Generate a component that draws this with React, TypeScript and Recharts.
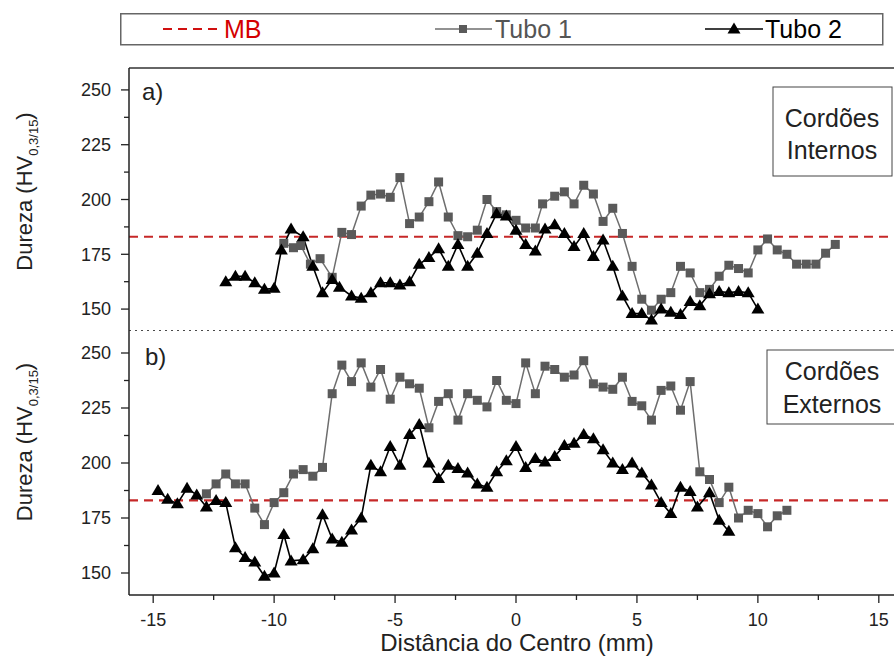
import { Line, LineChart, ReferenceLine, XAxis, YAxis } from 'recharts';

const FONT = '"Liberation Sans", Arial, sans-serif';

// eixo x (mm) e eixo y (HV)
const xTicks = [-15, -12.5, -10, -7.5, -5, -2.5, 0, 2.5, 5, 7.5, 10, 12.5, 15];
const xLabels = [-15, -10, -5, 0, 5, 10, 15];
const yTicks = [150, 162.5, 175, 187.5, 200, 212.5, 225, 237.5, 250];
const yLabels = [150, 175, 200, 225, 250];
const mb = 183;

// a) Cordões Internos
const intTubo1X = [-9.6, -9.2, -8.9, -8.5, -8.1, -7.6, -7.2, -6.8, -6.4, -6.0, -5.6, -5.2, -4.8, -4.4, -4.0, -3.6, -3.2, -2.8, -2.4, -2.0, -1.6, -1.2, -0.8, -0.4, 0.0, 0.4, 0.8, 1.1, 1.6, 2.0, 2.4, 2.8, 3.2, 3.6, 4.0, 4.4, 4.8, 5.2, 5.6, 6.0, 6.4, 6.8, 7.2, 7.6, 8.0, 8.4, 8.8, 9.2, 9.6, 10.0, 10.4, 10.8, 11.2, 11.6, 12.0, 12.4, 12.8, 13.2];
const intTubo1Y = [180, 178, 179, 170.5, 173, 164.5, 185, 184, 197, 202, 202.5, 201, 210, 189, 192, 199, 208, 192, 183.5, 183, 186, 200, 194.5, 193, 190.5, 187, 187, 198, 201.5, 203.5, 198, 206.5, 202.5, 190, 196, 184.5, 169.5, 154.5, 149.5, 154.5, 157.5, 169.5, 166.5, 157.5, 159, 165, 170, 168.5, 166.5, 177, 182, 177, 175, 170.5, 170.5, 170.5, 175.5, 179.5];
const intTubo2X = [-12.0, -11.6, -11.2, -10.8, -10.4, -10.0, -9.7, -9.3, -8.8, -8.4, -8.0, -7.6, -7.3, -6.8, -6.4, -6.0, -5.6, -5.2, -4.8, -4.4, -4.0, -3.6, -3.2, -2.8, -2.4, -2.0, -1.6, -1.2, -0.8, -0.4, 0.0, 0.4, 0.8, 1.2, 1.6, 2.0, 2.4, 2.8, 3.2, 3.6, 4.0, 4.4, 4.8, 5.2, 5.6, 6.0, 6.4, 6.8, 7.2, 7.6, 8.0, 8.4, 8.8, 9.2, 9.6, 10.0];
const intTubo2Y = [162.5, 165, 165, 162, 159, 159.5, 177, 186.5, 183, 169.5, 157.5, 163.5, 160, 156, 155, 157.5, 162, 162, 161, 162.5, 170.5, 173.5, 177.5, 169.5, 179.5, 169.5, 175.5, 184.5, 193.5, 192.5, 186, 179.5, 176.5, 186.5, 188.5, 184.5, 178.5, 184.5, 174, 181.5, 169.5, 156, 148, 148, 145, 150, 148.5, 147.5, 153.5, 151.5, 157, 158, 157.5, 158, 157.5, 150];

// b) Cordões Externos
const extTubo1X = [-12.8, -12.4, -12.0, -11.6, -11.2, -10.8, -10.4, -10.0, -9.6, -9.2, -8.8, -8.4, -8.0, -7.6, -7.2, -6.8, -6.4, -6.0, -5.6, -5.2, -4.8, -4.4, -4.0, -3.6, -3.2, -2.8, -2.4, -2.0, -1.6, -1.2, -0.8, -0.4, 0.0, 0.4, 0.8, 1.2, 1.6, 2.0, 2.4, 2.8, 3.2, 3.6, 4.0, 4.4, 4.8, 5.2, 5.6, 6.0, 6.4, 6.8, 7.2, 7.6, 8.0, 8.4, 8.8, 9.2, 9.6, 10.0, 10.4, 10.8, 11.2];
const extTubo1Y = [186, 190.5, 195, 190.5, 190.5, 179.5, 172, 182, 186.5, 195, 197, 194, 198, 231.5, 244.5, 237, 245.5, 234.5, 242.5, 229, 239, 236, 234, 216, 228, 231.5, 219.5, 231.5, 228.5, 225.5, 237.5, 228.5, 227, 245.5, 231.5, 244, 242.5, 239, 240, 246.5, 236, 234.5, 233.5, 239, 228, 226, 219.5, 233, 235, 224, 237, 196, 192.5, 182, 189, 175, 178.5, 177, 171, 176, 178.5];
const extTubo2X = [-14.8, -14.4, -14.0, -13.6, -13.2, -12.8, -12.4, -12.0, -11.6, -11.2, -10.8, -10.4, -10.0, -9.6, -9.3, -8.8, -8.4, -8.0, -7.6, -7.2, -6.8, -6.4, -6.0, -5.6, -5.2, -4.8, -4.4, -4.0, -3.6, -3.2, -2.8, -2.4, -2.0, -1.6, -1.2, -0.8, -0.4, 0.0, 0.4, 0.8, 1.2, 1.6, 2.0, 2.4, 2.8, 3.2, 3.6, 4.0, 4.4, 4.8, 5.2, 5.6, 6.0, 6.4, 6.8, 7.2, 7.5, 8.0, 8.4, 8.8];
const extTubo2Y = [187.5, 183.5, 181.5, 188.5, 185.5, 180, 183, 182, 161.5, 157, 155, 148.5, 150, 167.5, 155.5, 156, 161, 176.5, 165.5, 164, 169.5, 175, 199, 196, 207.5, 199, 213, 217.5, 200, 193, 199, 197.5, 195.5, 190.5, 189, 196, 201, 207.5, 198, 202, 200.5, 203, 208, 209, 213, 211, 206, 200, 197, 200, 195.5, 190, 182, 177, 189, 187, 180, 186.5, 174, 169];

const zip = (xs: number[], ys: number[]) => xs.map((x, i) => ({ x, y: ys[i] }));

function XTick({ x, y, payload }: any) {
  const major = xLabels.includes(payload.value);
  return (
    <g>
      <line x1={x} y1={y} x2={x} y2={y + (major ? 8 : 5)} stroke="#222" strokeWidth={1.3} />
      {major && (
        <text x={x} y={y + 25} dy="0.35em" textAnchor="middle" fontSize={18} fill="#222" fontFamily={FONT}>
          {payload.value}
        </text>
      )}
    </g>
  );
}

function YTick({ x, y, payload }: any) {
  const major = yLabels.includes(payload.value);
  return (
    <g>
      <line x1={x - (major ? 8 : 5)} y1={y} x2={x} y2={y} stroke="#222" strokeWidth={1.3} />
      {major && (
        <text x={x - 18} y={y} dy="0.35em" textAnchor="end" fontSize={18} fill="#222" fontFamily={FONT}>
          {payload.value}
        </text>
      )}
    </g>
  );
}

function YTitle({ cx, cy }: { cx: number; cy: number }) {
  return (
    <text transform={`rotate(-90 ${cx} ${cy})`} x={cx} y={cy} textAnchor="middle" fontSize={22} fill="#222" fontFamily={FONT}>
      Dureza (HV<tspan fontSize={13} dy={6}>0,3/15</tspan>
      <tspan dy={-6}>)</tspan>
    </text>
  );
}

function XTitle() {
  return (
    <text x={517} y={320} textAnchor="middle" fontSize={24} fill="#222" fontFamily={FONT}>
      Distância do Centro (mm)
    </text>
  );
}

const squareDot = (p: any) =>
  p.cx == null ? <g key={p.index} /> : <rect key={p.index} x={p.cx - 4.5} y={p.cy - 4.5} width={9} height={9} fill="#5a5a5a" />;

const triangleDot = (p: any) =>
  p.cx == null ? (
    <g key={p.index} />
  ) : (
    <path key={p.index} d={`M${p.cx},${p.cy - 6.5} L${p.cx + 6.5},${p.cy + 4.5} L${p.cx - 6.5},${p.cy + 4.5} Z`} fill="#000" />
  );

export default function App() {
  const intT1 = zip(intTubo1X, intTubo1Y);
  const intT2 = zip(intTubo2X, intTubo2Y);
  const extT1 = zip(extTubo1X, extTubo1Y);
  const extT2 = zip(extTubo2X, extTubo2Y);

  return (
    <div style={{ position: 'fixed', left: 0, top: 0, width: 894, height: 663, overflow: 'hidden', background: '#fff', fontFamily: FONT }}>
      <div style={{ position: 'absolute', left: 0, top: 0 }}>
        <LineChart width={910} height={331} margin={{ top: 68, right: 7, bottom: 0, left: 0 }}>
          <XAxis type="number" dataKey="x" domain={[-16, 16]} hide />
          <YAxis
            type="number"
            domain={[140, 260]}
            ticks={yTicks}
            interval={0}
            width={129}
            tickSize={0}
            tickMargin={0}
            tickLine={false}
            tick={YTick}
            axisLine={{ stroke: '#222', strokeWidth: 1.5 }}
            label={<YTitle cx={32} cy={191.5} />}
          />
          <ReferenceLine y={260} stroke="#333" strokeWidth={1.5} />
          <ReferenceLine y={140} stroke="#111" strokeWidth={1.6} strokeDasharray="2 4" />
          <ReferenceLine y={mb} stroke="#c62828" strokeWidth={2.2} strokeDasharray="9 6" />
          <Line data={intT1} dataKey="y" type="linear" stroke="#6e6e6e" strokeWidth={1.5} dot={squareDot} activeDot={false} isAnimationActive={false} />
          <Line data={intT2} dataKey="y" type="linear" stroke="#000" strokeWidth={1.6} dot={triangleDot} activeDot={false} isAnimationActive={false} />
        </LineChart>
      </div>

      <div style={{ position: 'absolute', left: 0, top: 331 }}>
        <LineChart width={910} height={332} margin={{ top: 0, right: 7, bottom: 0, left: 0 }}>
          <XAxis
            type="number"
            dataKey="x"
            domain={[-16, 16]}
            ticks={xTicks}
            interval={0}
            height={68}
            tickSize={0}
            tickMargin={0}
            tickLine={false}
            tick={XTick}
            axisLine={{ stroke: '#222', strokeWidth: 1.5 }}
            label={<XTitle />}
          />
          <YAxis
            type="number"
            domain={[140, 260]}
            ticks={yTicks}
            interval={0}
            width={129}
            tickSize={0}
            tickMargin={0}
            tickLine={false}
            tick={YTick}
            axisLine={{ stroke: '#222', strokeWidth: 1.5 }}
            label={<YTitle cx={32} cy={111} />}
          />
          <ReferenceLine y={mb} stroke="#c62828" strokeWidth={2.2} strokeDasharray="9 6" />
          <Line data={extT1} dataKey="y" type="linear" stroke="#6e6e6e" strokeWidth={1.5} dot={squareDot} activeDot={false} isAnimationActive={false} />
          <Line data={extT2} dataKey="y" type="linear" stroke="#000" strokeWidth={1.6} dot={triangleDot} activeDot={false} isAnimationActive={false} />
        </LineChart>
      </div>

      <svg width={894} height={663} style={{ position: 'absolute', left: 0, top: 0, pointerEvents: 'none' }} fontFamily={FONT}>
        {/* legenda */}
        <rect x={120.75} y={13.75} width={762} height={31} fill="#fff" stroke="#666" strokeWidth={1.5} />
        <line x1={163} y1={29} x2={222} y2={29} stroke="#d01010" strokeWidth={2.2} strokeDasharray="9 6" />
        <text x={224} y={29} dy="0.36em" fontSize={25} fill="#d40000">MB</text>
        <line x1={435} y1={29} x2={492} y2={29} stroke="#6e6e6e" strokeWidth={1.5} />
        <rect x={459} y={25} width={8} height={8} fill="#5a5a5a" />
        <text x={495} y={29} dy="0.36em" fontSize={25} fill="#555">Tubo 1</text>
        <line x1={705} y1={29} x2={763} y2={29} stroke="#000" strokeWidth={1.6} />
        <path d="M734,22.5 L740.5,33.5 L727.5,33.5 Z" fill="#000" />
        <text x={765} y={29} dy="0.36em" fontSize={25} fill="#000">Tubo 2</text>

        {/* rótulos dos painéis */}
        <text x={142} y={100} fontSize={24} fill="#222">a)</text>
        <text x={145} y={365} fontSize={24} fill="#222">b)</text>

        <rect x={773} y={87} width={119} height={89} fill="#fff" stroke="#444" strokeWidth={1} />
        <text x={832} y={127} textAnchor="middle" fontSize={25} fill="#222">Cordões</text>
        <text x={832} y={159} textAnchor="middle" fontSize={25} fill="#222">Internos</text>

        <rect x={767} y={350} width={135} height={74} fill="#fff" stroke="#444" strokeWidth={1} />
        <text x={832} y={380} textAnchor="middle" fontSize={25} fill="#222">Cordões</text>
        <text x={832} y={413} textAnchor="middle" fontSize={25} fill="#222">Externos</text>
      </svg>
    </div>
  );
}
